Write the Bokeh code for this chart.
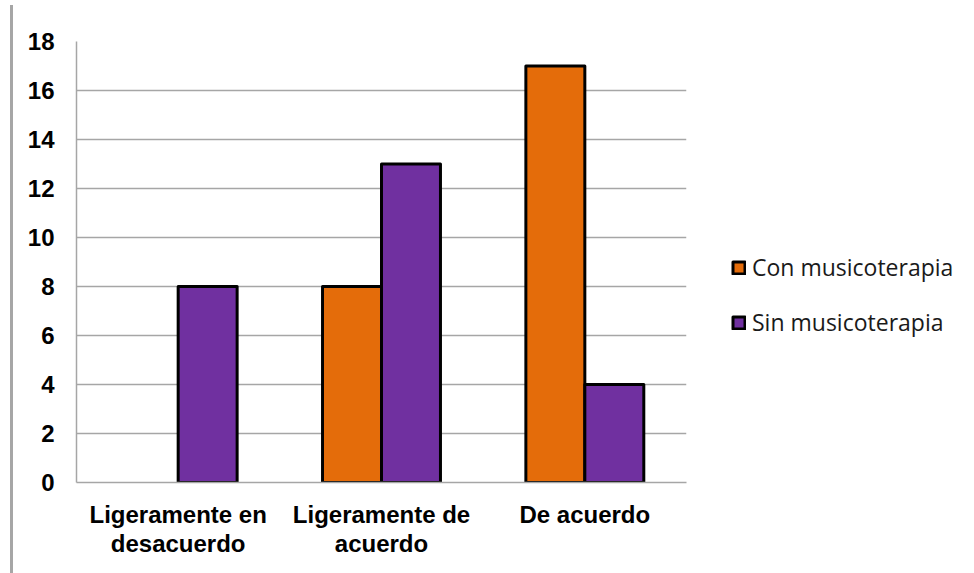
from bokeh.plotting import figure
from bokeh.models import (ColumnDataSource, FactorRange, Range1d, FixedTicker,
                          Legend, LegendItem, Div)
from bokeh.transform import dodge
from bokeh.layouts import row
from bokeh.embed import file_html
from bokeh.resources import INLINE

# Survey responses by agreement level
categories = ["Ligeramente en\ndesacuerdo", "Ligeramente de\nacuerdo", "De acuerdo"]
con_musicoterapia = [0, 8, 17]
sin_musicoterapia = [8, 13, 4]
y_ticks = [0, 2, 4, 6, 8, 10, 12, 14, 16, 18]

ORANGE = "#E46C0A"
PURPLE = "#7030A0"
GRID = "#a6a6a6"


def nonzero(cats, vals):
    # zero-height bars are not drawn
    keep = [(c, v) for c, v in zip(cats, vals) if v > 0]
    return ColumnDataSource(dict(cat=[k[0] for k in keep], val=[k[1] for k in keep]))


src_con = nonzero(categories, con_musicoterapia)
src_sin = nonzero(categories, sin_musicoterapia)

p = figure(x_range=FactorRange(*categories, range_padding=0),
           y_range=Range1d(0, 18),
           frame_width=610, frame_height=441,
           min_border_left=58, min_border_right=270,
           min_border_top=41, min_border_bottom=91,
           output_backend="svg", toolbar_location=None,
           background_fill_color="white", border_fill_color="white",
           outline_line_color=None)

bar_w = 0.29
r_con = p.vbar(x=dodge("cat", -bar_w / 2, range=p.x_range), top="val", bottom=0,
               width=bar_w, source=src_con, fill_color=ORANGE,
               line_color="black", line_width=3, line_join="round")
r_sin = p.vbar(x=dodge("cat", bar_w / 2, range=p.x_range), top="val", bottom=0,
               width=bar_w, source=src_sin, fill_color=PURPLE,
               line_color="black", line_width=3, line_join="round")

# grid
p.xgrid.grid_line_color = None
p.ygrid.grid_line_color = GRID
p.ygrid.grid_line_width = 1.5
p.ygrid.level = "underlay"

# y axis
p.yaxis.ticker = FixedTicker(ticks=y_ticks)
p.yaxis.axis_line_color = GRID
p.yaxis.axis_line_width = 1.5
p.yaxis.major_tick_line_color = None
p.yaxis.minor_tick_line_color = None
p.yaxis.major_label_standoff = 16
p.yaxis.major_label_text_font = "Liberation Sans"
p.yaxis.major_label_text_font_style = "bold"
p.yaxis.major_label_text_font_size = "24px"
p.yaxis.major_label_text_color = "black"

# x axis
p.xaxis.axis_line_color = GRID
p.xaxis.axis_line_width = 1.5
p.xaxis.major_tick_line_color = None
p.xaxis.minor_tick_line_color = None
p.xaxis.major_label_standoff = 12
p.xaxis.major_label_text_font = "Liberation Sans"
p.xaxis.major_label_text_font_style = "bold"
p.xaxis.major_label_text_font_size = "24px"
p.xaxis.major_label_text_color = "black"
p.xaxis.major_label_text_line_height = 1.1

legend = Legend(items=[LegendItem(label="Con musicoterapia", renderers=[r_con]),
                       LegendItem(label="Sin musicoterapia", renderers=[r_sin])],
                location=(45, 144), orientation="vertical",
                glyph_width=15, glyph_height=15, label_standoff=6,
                spacing=23, padding=0, margin=0,
                border_line_color=None, background_fill_alpha=0,
                label_text_font="Open Sans", label_text_font_size="23px",
                label_text_color="#1a1a1a")
p.add_layout(legend, "right")

edge = Div(width=8, height=573, styles={"border-right": "3px solid #a6a6a6",
                                        "height": "573px"})
layout = row(edge, p, spacing=0)

open("out.html", "w").write(file_html(layout, INLINE))
